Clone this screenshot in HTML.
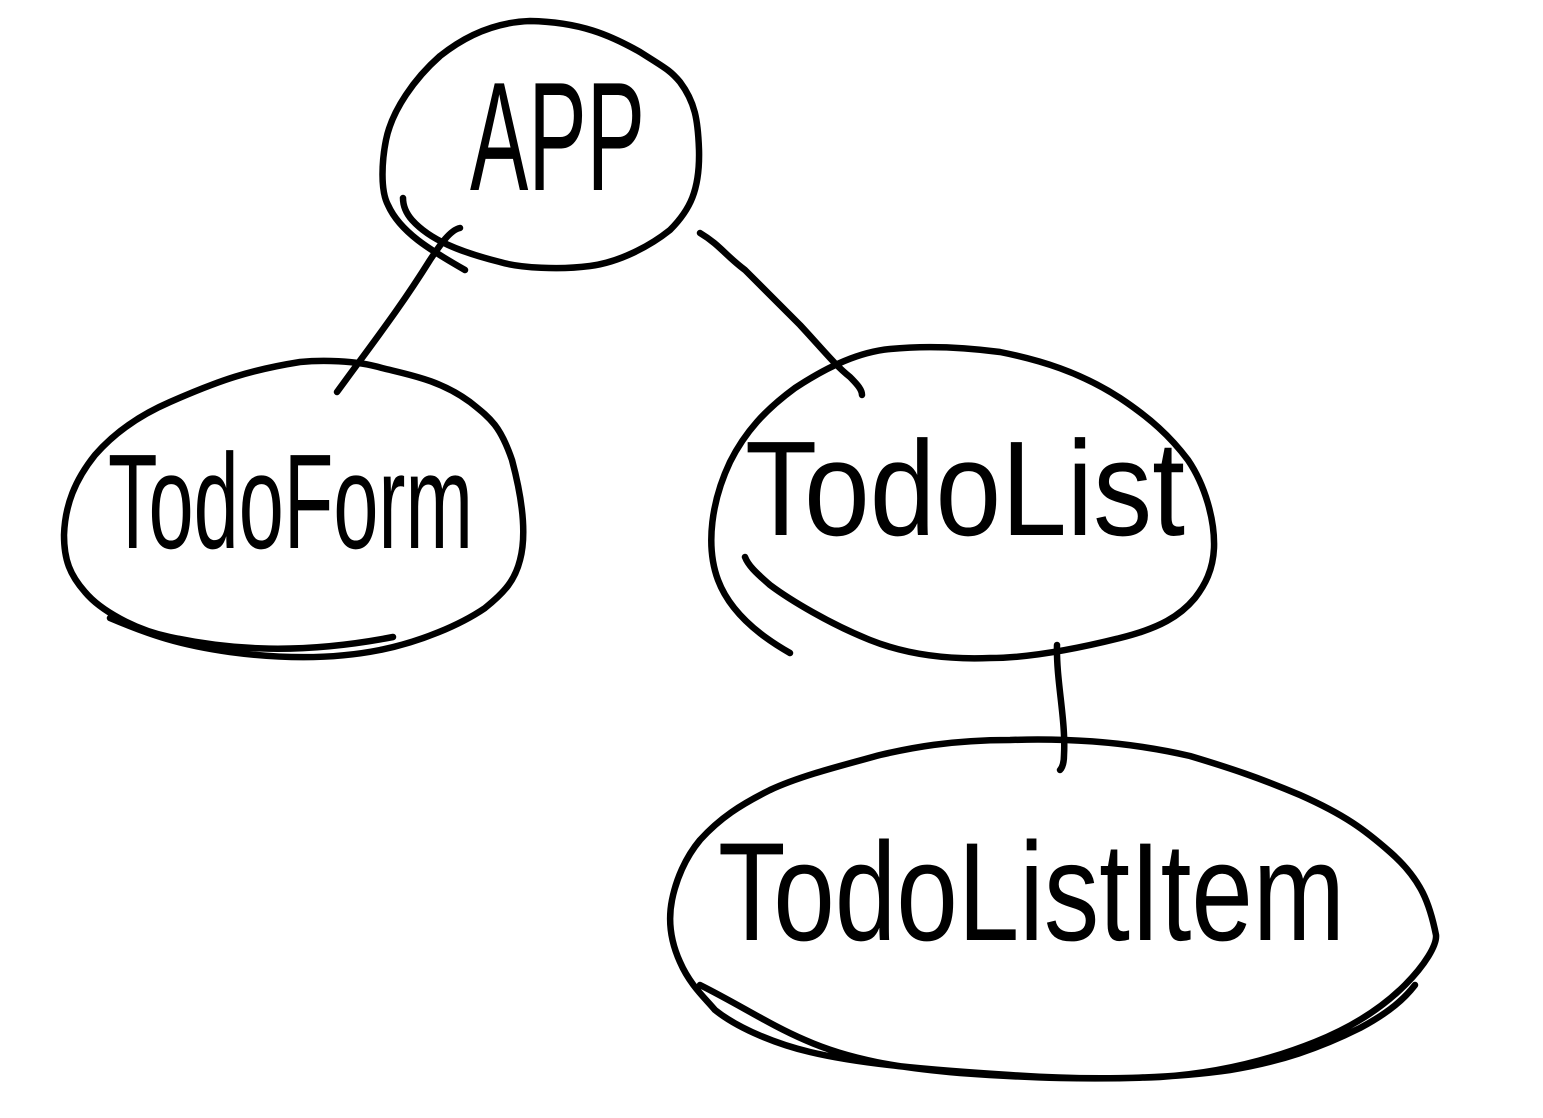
<!DOCTYPE html>
<html><head><meta charset="utf-8"><style>
html,body{margin:0;padding:0;background:#fff;}
svg{display:block}
text{font-family:"Liberation Sans",sans-serif;fill:#000;}
</style></head><body>
<svg width="1543" height="1118" viewBox="0 0 1543 1118" xmlns="http://www.w3.org/2000/svg">
<g fill="none" stroke="#000" stroke-width="6.5" stroke-linecap="round" stroke-linejoin="round">
<path d="M465,270 C430,250 400,232 388,205 C380,190 382,160 386,140 C392,110 415,78 440,56 C470,32 500,22 530,21 C580,22 610,35 640,52 C665,68 670,70 680,82 C695,102 698,120 699,150 C700,190 690,210 670,230 C650,246 620,262 590,266 C560,270 520,268 500,262 C460,252 430,240 412,220 C405,212 403,205 403,198"/>
<path d="M460,228 C450,230 440,245 430,260 C400,308 375,340 337,392"/>
<path d="M700,233 C720,245 725,255 745,270 C760,285 780,305 800,325 C825,352 835,365 850,377 C858,385 862,390 862,395"/>
<path d="M1057,645 C1056,680 1066,720 1064,755 C1064,763 1062,768 1060,770"/>
<path d="M110,618 C150,635 180,645 230,652 C290,660 340,658 380,650 C420,642 460,625 485,608 C505,592 515,580 520,560 C528,530 520,490 512,460 C500,425 490,418 470,402 C440,380 410,375 382,368 C355,360 320,360 300,362 C250,370 220,380 170,402 C140,415 115,432 95,455 C75,480 65,505 64,535 C64,560 70,575 85,592 C100,610 135,630 170,637 C230,650 300,655 393,637"/>
<path d="M790,653 C760,636 730,612 718,580 C705,545 712,500 730,462 C745,432 765,410 795,388 C830,365 860,352 890,349 C930,345 970,348 1000,352 C1040,360 1080,372 1120,398 C1150,418 1170,436 1188,460 C1205,485 1215,520 1214,548 C1213,570 1205,585 1195,598 C1180,616 1160,628 1120,638 C1080,648 1030,658 990,658 C940,660 900,652 870,640 C830,624 790,600 770,585 C755,572 748,565 745,557"/>
<path d="M700,985 C740,1005 770,1025 805,1040 C850,1060 900,1068 960,1073 C1030,1078 1090,1080 1160,1077 C1220,1073 1270,1060 1315,1042 C1350,1028 1380,1010 1405,985 C1425,965 1437,945 1436,935 C1430,905 1422,880 1390,852 C1365,830 1345,815 1300,795 C1260,778 1230,768 1190,756 C1130,742 1070,738 1010,740 C950,740 910,748 880,755 C840,766 800,776 770,790 C740,805 720,818 700,840 C685,858 676,880 672,900 C668,920 670,940 680,962 C690,985 705,998 715,1010 C740,1030 780,1045 810,1052 C860,1064 930,1070 1010,1075 C1080,1080 1160,1080 1230,1070 C1280,1062 1320,1048 1360,1028 C1390,1012 1405,998 1415,985"/>
</g>
<text x="470" y="190" font-size="155" textLength="175" lengthAdjust="spacingAndGlyphs">APP</text>
<text x="108" y="548" font-size="135" textLength="365" lengthAdjust="spacingAndGlyphs">TodoForm</text>
<text x="745" y="535" font-size="135" textLength="440" lengthAdjust="spacingAndGlyphs">TodoList</text>
<text x="718" y="940" font-size="140" textLength="627" lengthAdjust="spacingAndGlyphs">TodoListItem</text>
</svg>
</body></html>
